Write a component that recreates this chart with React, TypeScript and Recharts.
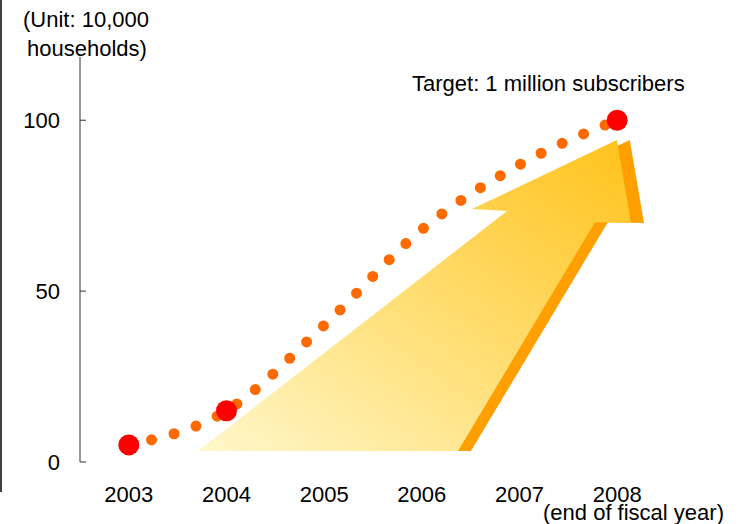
import { LineChart, Line, XAxis, YAxis, ReferenceArea } from "recharts";

// fiscal years (end of year) and subscriber counts, unit: 10,000 households
const YEARS = ["2003", "2004", "2005", "2006", "2007", "2008"];
const SUBSCRIBERS = [5, 15, 40, 68, 87, 100];
const MARKED = [true, true, false, false, false, true];
const Y_TICKS = [0, 50, 100];

const data = YEARS.map((year, i) => ({
  x: i + 0.5,
  year,
  value: SUBSCRIBERS[i],
  marked: MARKED[i],
}));
const centerTicks = YEARS.map((_, i) => i + 0.5);
const boundTicks = YEARS.map((_, i) => i + 1);

// decorative arrow: box in chart units, outline as fractions of that box
const ARROW_BOX = { x1: 1.208, x2: 5.775, y1: 3.2, y2: 94.2 };
const ARROW_FACE = [
  [0, 1],
  [0.583, 1],
  [0.89, 0.264],
  [0.971, 0.267],
  [0.939, 0],
  [0.614, 0.222],
  [0.693, 0.228],
];
const ARROW_DEPTH = 0.029;

const FONT = "'Liberation Sans', Arial, sans-serif";

function ArrowShape(props: any) {
  const { x, y, width, height } = props;
  const pts = (dx: number) =>
    ARROW_FACE.map(
      ([fx, fy]) => `${x + (fx + dx) * width},${y + fy * height}`
    ).join(" ");
  return (
    <g>
      <defs>
        <linearGradient id="arrowFill" x1="0" y1="1" x2="1" y2="0">
          <stop offset="0%" stopColor="#FFF8CC" />
          <stop offset="45%" stopColor="#FFE07A" />
          <stop offset="100%" stopColor="#FFC21A" />
        </linearGradient>
      </defs>
      <polygon points={pts(ARROW_DEPTH)} fill="#FF9F00" />
      <polygon points={pts(0)} fill="url(#arrowFill)" />
    </g>
  );
}

function MarkerDot(props: any) {
  const { cx, cy, index, payload } = props;
  if (!payload || !payload.marked) return <g key={`d${index}`} />;
  return <circle key={`d${index}`} cx={cx} cy={cy} r={10.5} fill="#FF0000" />;
}

export default function App() {
  return (
    <div
      style={{
        position: "absolute",
        left: 0,
        top: 0,
        width: 742,
        height: 524,
        background: "#fff",
        fontFamily: FONT,
        overflow: "hidden",
      }}
    >
      <LineChart
        width={742}
        height={524}
        data={data}
        margin={{ top: 57, right: 76, bottom: 22, left: 20 }}
      >
        <XAxis
          xAxisId="bounds"
          type="number"
          dataKey="x"
          domain={[0, 6]}
          allowDataOverflow
          ticks={boundTicks}
          interval={0}
          tick={false}
          tickSize={-8}
          height={0}
          axisLine={{ stroke: "#333" }}
          tickLine={{ stroke: "#333" }}
        />
        <XAxis
          xAxisId="years"
          type="number"
          dataKey="x"
          domain={[0, 6]}
          allowDataOverflow
          ticks={centerTicks}
          interval={0}
          tickFormatter={(v: number) => YEARS[Math.floor(v)]}
          axisLine={false}
          tickLine={false}
          tickMargin={18}
          height={40}
          tick={{ fontSize: 22, fill: "#000", fontFamily: FONT }}
        />
        <YAxis
          type="number"
          domain={[0, 118.5]}
          allowDataOverflow
          ticks={Y_TICKS}
          interval={0}
          width={60}
          tickSize={-6}
          tickMargin={26}
          axisLine={{ stroke: "#333" }}
          tickLine={{ stroke: "#333" }}
          tick={{ fontSize: 22, fill: "#000", fontFamily: FONT }}
        />
        <ReferenceArea
          xAxisId="years"
          x1={ARROW_BOX.x1}
          x2={ARROW_BOX.x2}
          y1={ARROW_BOX.y1}
          y2={ARROW_BOX.y2}
          shape={ArrowShape}
        />
        <Line
          xAxisId="years"
          type="monotone"
          dataKey="value"
          stroke="#FF6A00"
          strokeWidth={11}
          strokeDasharray="0 23.3"
          strokeLinecap="round"
          dot={MarkerDot}
          activeDot={false}
          isAnimationActive={false}
        />
      </LineChart>
      <svg
        width={742}
        height={524}
        style={{ position: "absolute", left: 0, top: 0, pointerEvents: "none" }}
        fontFamily={FONT}
        fontSize={22}
      >
        <line x1={1} y1={0} x2={1} y2={492} stroke="#000" strokeWidth={1.5} />
        <text x={86} y={27} textAnchor="middle" fill="#000">
          (Unit: 10,000
        </text>
        <text x={87} y={56} textAnchor="middle" fill="#000">
          households)
        </text>
        <text x={412} y={91} fill="#000">
          Target: 1 million subscribers
        </text>
        <text x={543} y={520} fill="#000">
          (end of fiscal year)
        </text>
      </svg>
    </div>
  );
}
